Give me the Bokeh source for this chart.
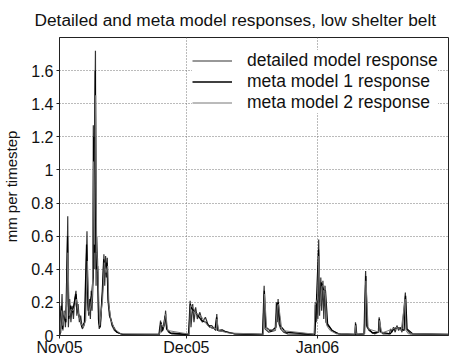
from bokeh.plotting import figure
from bokeh.models import Range1d, FixedTicker, Legend, LegendItem
from bokeh.embed import file_html
from bokeh.resources import INLINE

# days since 1 Nov 2005
det_day = [0.0, 0.3, 0.6, 0.8, 1.1, 1.4, 1.7, 1.95, 2.1, 2.4, 2.7, 3.0, 3.3, 3.6, 3.9, 4.1, 4.4, 4.7, 5.0, 5.4,
           5.8, 6.1, 6.5, 6.7, 6.9, 7.1, 7.3, 7.5, 7.7, 7.9, 8.0, 8.2, 8.35, 8.5, 8.65, 8.8, 9.0, 9.2, 9.4, 9.7,
           10.0, 10.3, 10.5, 10.7, 10.9, 11.1, 11.3, 11.5, 11.8, 12.1, 12.4, 13.0, 14.0, 15.0, 23.5, 23.9, 24.1,
           24.5, 24.8, 25.1, 25.3, 25.8, 26.5, 30.5, 30.9, 31.1, 31.5, 31.8, 32.2, 32.6, 33.2, 33.8, 34.5, 35.2,
           36.0, 37.0, 37.2, 37.4, 38.5, 39.5, 40.5, 41.5, 48.0, 48.4, 48.6, 49.5, 51.0, 51.3, 51.5, 51.7, 51.9,
           52.3, 53.0, 54.0, 60.3, 60.5, 60.7, 60.9, 61.1, 61.3, 61.5, 61.8, 62.0, 62.3, 62.5, 62.8, 63.0, 63.5,
           64.5, 65.5, 66.5, 69.9, 70.0, 70.1, 72.0, 72.4, 72.6, 73.2, 74.5, 75.4, 75.6, 75.8, 76.5, 78.0, 78.3,
           78.6, 79.0, 79.4, 79.8, 80.2, 80.6, 81.0, 81.8, 82.0, 83.0, 92.0]
det_val = [0.0, 0.02, 0.25, 0.03, 0.15, 0.05, 0.20, 0.72, 0.05, 0.22, 0.08, 0.18, 0.10, 0.22, 0.27, 0.12, 0.19, 0.08, 0.12, 0.04,
           0.06, 0.10, 0.63, 0.20, 0.12, 0.22, 0.10, 0.27, 0.15, 0.30, 1.27, 0.40, 1.25, 1.72, 0.30, 0.60, 0.45, 0.10, 0.04, 0.06,
           0.20, 0.30, 0.49, 0.30, 0.48, 0.35, 0.47, 0.20, 0.12, 0.10, 0.06, 0.03, 0.015, 0.005, 0.005, 0.09, 0.02,
           0.04, 0.06, 0.15, 0.04, 0.02, 0.01, 0.005, 0.21, 0.05, 0.19, 0.08, 0.17, 0.10, 0.14, 0.08, 0.11, 0.06,
           0.06, 0.03, 0.13, 0.03, 0.035, 0.02, 0.015, 0.01, 0.005, 0.30, 0.04, 0.02, 0.03, 0.20, 0.08, 0.22, 0.07,
           0.04, 0.02, 0.01, 0.005, 0.20, 0.08, 0.25, 0.10, 0.58, 0.12, 0.35, 0.15, 0.33, 0.10, 0.30, 0.08, 0.06,
           0.03, 0.015, 0.008, 0.005, 0.08, 0.005, 0.01, 0.39, 0.06, 0.03, 0.01, 0.02, 0.11, 0.03, 0.01, 0.01, 0.04,
           0.02, 0.05, 0.02, 0.06, 0.03, 0.05, 0.02, 0.26, 0.04, 0.01, 0.005]

m1_day = [0.0, 0.4, 0.7, 1.0, 1.5, 1.9, 2.2, 2.6, 3.1, 3.5, 3.9, 4.3, 4.8, 5.3, 5.9, 6.4, 6.8, 7.2, 7.6, 7.95, 8.1,
          8.3, 8.45, 8.7, 9.0, 9.3, 9.6, 10.1, 10.45, 10.8, 11.2, 11.5, 12.0, 12.6, 13.5, 15.0, 23.6, 24.0, 24.4,
          25.0, 25.4, 26.2, 30.6, 30.95, 31.3, 31.9, 32.8, 33.6, 34.6, 35.6, 36.8, 37.15, 37.5, 39.0, 41.5, 48.1,
          48.45, 48.8, 50.0, 51.2, 51.45, 51.75, 52.2, 53.5, 60.4, 60.8, 61.25, 61.6, 61.9, 62.4, 62.9, 63.4, 64.5,
          66.0, 69.9, 70.05, 70.3, 72.1, 72.45, 72.8, 74.0, 75.5, 75.65, 76.0, 78.2, 79.1, 79.9, 80.7, 81.5, 81.85,
          82.2, 83.5, 92.0]
m1_val = [0.0, 0.18, 0.04, 0.12, 0.08, 0.60, 0.10, 0.18, 0.14, 0.20, 0.25, 0.15, 0.10, 0.05, 0.08, 0.55, 0.15, 0.20, 0.24, 0.35,
          1.20, 0.50, 1.60, 0.40, 0.42, 0.08, 0.05, 0.25, 0.46, 0.40, 0.44, 0.22, 0.11, 0.06, 0.02, 0.006, 0.006, 0.08, 0.03,
          0.12, 0.04, 0.015, 0.006, 0.19, 0.16, 0.15, 0.12, 0.09, 0.08, 0.05, 0.04, 0.11, 0.03, 0.025, 0.01, 0.006,
          0.27, 0.05, 0.025, 0.05, 0.19, 0.20, 0.06, 0.02, 0.006, 0.22, 0.52, 0.20, 0.32, 0.28, 0.27, 0.07, 0.03,
          0.01, 0.006, 0.07, 0.006, 0.01, 0.36, 0.05, 0.015, 0.02, 0.10, 0.02, 0.01, 0.04, 0.05, 0.04, 0.03, 0.24,
          0.04, 0.01, 0.006]

m2_day = [0.0, 0.5, 0.8, 1.2, 1.6, 2.0, 2.3, 2.8, 3.2, 3.7, 4.0, 4.5, 5.1, 5.6, 6.2, 6.6, 7.0, 7.4, 7.8, 8.05, 8.25,
          8.55, 8.8, 9.1, 9.5, 10.2, 10.6, 11.0, 11.4, 11.7, 12.2, 13.0, 14.5, 23.7, 24.05, 24.6, 25.15, 25.6,
          30.7, 31.0, 31.6, 32.4, 33.4, 34.2, 35.4, 37.1, 37.25, 37.6, 40.0, 48.2, 48.5, 49.0, 51.1, 51.55, 51.8,
          52.6, 60.2, 60.45, 61.0, 61.35, 61.7, 62.1, 62.6, 62.85, 63.2, 64.0, 65.5, 69.85, 70.0, 70.2, 72.2, 72.5,
          73.0, 75.55, 75.7, 76.2, 78.4, 79.3, 80.0, 80.8, 81.75, 81.95, 82.5, 92.0]
m2_val = [0.0, 0.15, 0.06, 0.14, 0.10, 0.50, 0.12, 0.16, 0.15, 0.18, 0.22, 0.13, 0.07, 0.05, 0.09, 0.45, 0.14, 0.18, 0.25, 1.05,
          0.55, 1.45, 0.50, 0.38, 0.06, 0.22, 0.44, 0.38, 0.42, 0.18, 0.09, 0.04, 0.01, 0.008, 0.07, 0.05, 0.13, 0.03,
          0.008, 0.18, 0.17, 0.13, 0.12, 0.09, 0.05, 0.04, 0.10, 0.03, 0.015, 0.008, 0.25, 0.04, 0.03, 0.18, 0.19,
          0.03, 0.008, 0.18, 0.22, 0.48, 0.18, 0.30, 0.30, 0.26, 0.06, 0.03, 0.01, 0.008, 0.06, 0.008, 0.01, 0.33,
          0.04, 0.02, 0.09, 0.015, 0.035, 0.045, 0.05, 0.03, 0.22, 0.03, 0.01, 0.008]

x_ticks = [0, 30, 61]
x_labels = ["Nov05", "Dec05", "Jan06"]
y_ticks = [0, 0.2, 0.4, 0.6, 0.8, 1.0, 1.2, 1.4, 1.6]
y_labels = ["0", "0.2", "0.4", "0.6", "0.8", "1", "1.2", "1.4", "1.6"]
series_names = ["detailed model response", "meta model 1 response", "meta model 2 response"]

FONT = "Liberation Sans"

p = figure(frame_width=389, frame_height=298, output_backend="svg", toolbar_location=None,
           x_range=Range1d(0, 92), y_range=Range1d(0, 1.8),
           min_border_left=52, min_border_right=2, min_border_top=29, min_border_bottom=0)

p.title.text = "Detailed and meta model responses, low shelter belt"
p.title.text_font = FONT
p.title.text_font_size = "17.3px"
p.title.text_font_style = "normal"
p.title.align = "left"
p.title.offset = -25
p.title.standoff = 15
p.title.text_color = "#111111"

p.outline_line_color = "#222222"
p.outline_line_width = 1

r_det = p.line(det_day, det_val, line_color="#333333", line_width=1.2)
r_m1 = p.line(m1_day, m1_val, line_color="#000000", line_width=1.3)
r_m2 = p.line(m2_day, m2_val, line_color="#777777", line_width=1.0)

p.xaxis.ticker = FixedTicker(ticks=x_ticks)
p.xaxis.major_label_overrides = {k: v for k, v in zip(x_ticks, x_labels)}
p.yaxis.ticker = FixedTicker(ticks=y_ticks)
p.yaxis.major_label_overrides = {k: v for k, v in zip(y_ticks, y_labels)}

for ax in (p.xaxis[0], p.yaxis[0]):
    ax.major_label_text_font = FONT
    ax.major_label_text_font_size = "16px"
    ax.major_label_text_color = "#111111"
    ax.axis_line_color = "#222222"
    ax.major_tick_in = 0
    ax.major_tick_out = 3
    ax.minor_tick_in = 0
    ax.minor_tick_out = 0
    ax.major_tick_line_color = "#222222"

p.xaxis.major_label_standoff = 0
p.yaxis.major_label_standoff = 3
p.yaxis.axis_label = "mm per timestep"
p.yaxis.axis_label_text_font = FONT
p.yaxis.axis_label_text_font_size = "15px"
p.yaxis.axis_label_text_font_style = "normal"
p.yaxis.axis_label_text_color = "#111111"
p.yaxis.axis_label_standoff = 8

p.xgrid.ticker = FixedTicker(ticks=x_ticks)
p.ygrid.ticker = FixedTicker(ticks=y_ticks)
for g in (p.xgrid[0], p.ygrid[0]):
    g.grid_line_color = "#777777"
    g.grid_line_dash = "1 2"
    g.grid_line_width = 1

legend = Legend(items=[LegendItem(label=series_names[0], renderers=[r_det]),
                       LegendItem(label=series_names[1], renderers=[r_m1]),
                       LegendItem(label=series_names[2], renderers=[r_m2])],
                location=(133, 222), border_line_color=None, background_fill_color="white",
                background_fill_alpha=1.0, label_text_font=FONT, label_text_font_size="17.5px",
                label_text_color="#111111", glyph_width=40, glyph_height=15, spacing=-7,
                padding=3, label_standoff=15, label_height=15)
p.add_layout(legend, "center")

open("out.html", "w").write(file_html(p, INLINE))
